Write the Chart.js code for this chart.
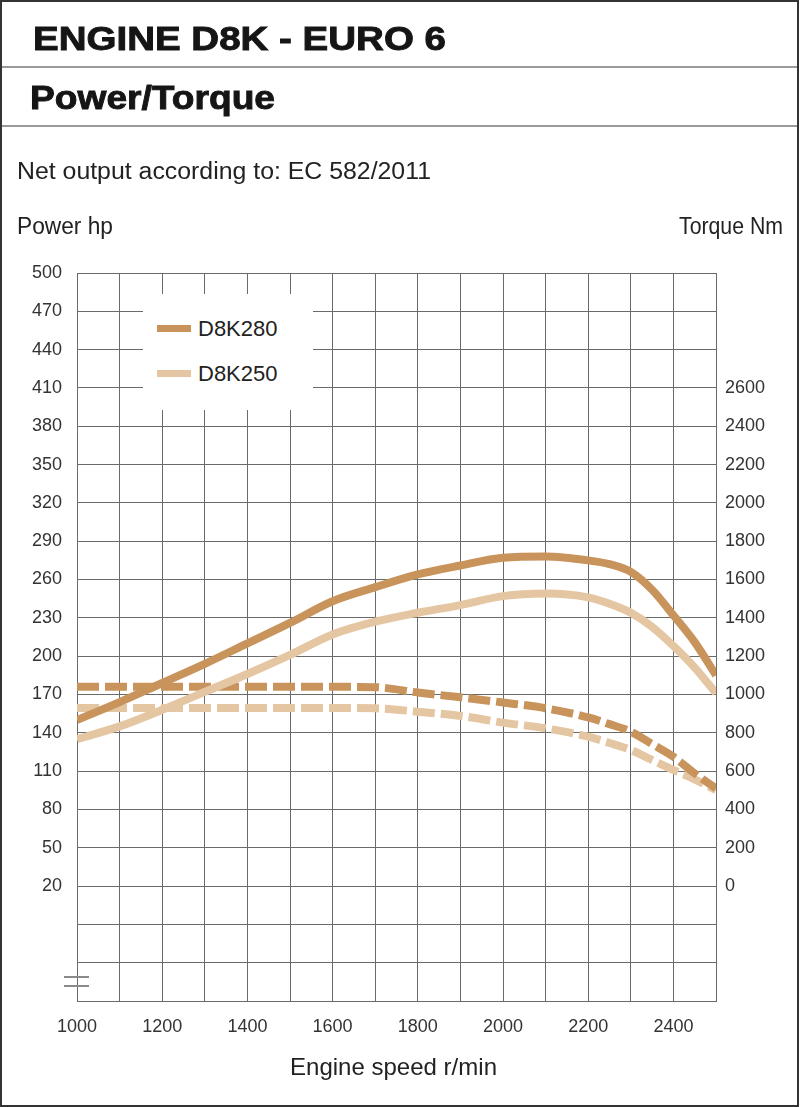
<!DOCTYPE html>
<html>
<head>
<meta charset="utf-8">
<script src="https://cdn.jsdelivr.net/npm/chart.js@4.4.1/dist/chart.umd.min.js"></script>
<style>
    html, body { margin: 0; padding: 0; background: #fff; }
    #page { position: relative; width: 800px; height: 1107px; overflow: hidden;
            font-family: "Liberation Sans", Arial, sans-serif; color: #222; }
    #frame { position: absolute; left: 0; top: 0; width: 799px; height: 1107px;
             box-sizing: border-box; border: 2px solid #333; z-index: 3; pointer-events: none; }
    .rule { position: absolute; left: 0; width: 799px; height: 2px; background: #9a9a9a; }
    .txt { position: absolute; white-space: nowrap; line-height: 1; transform-origin: 0 0; z-index: 2; }
    .head { font-weight: bold; font-size: 33px; color: #151515; -webkit-text-stroke: 0.9px #151515; }
    .label { font-size: 23px; color: #222; }
    #chart { position: absolute; left: 0; top: 0; }
    #legend { position: absolute; left: 143px; top: 294px; width: 170px; height: 116px;
              background: #fff; z-index: 2; }
    .legItem { position: absolute; left: 14px; height: 24px; }
    .legSwatch { position: absolute; left: 0; top: 9px; width: 34px; height: 7px; }
    .legText { position: absolute; left: 41px; top: 2px; font-size: 22px; line-height: 1; color: #222; white-space: nowrap; }
    .brk { position: absolute; left: 64px; width: 25px; height: 2px; background: #8a8a8a; z-index: 2; }
</style>
</head>
<body>
<div id="page">
    <div id="frame"></div>
    <div class="rule" style="top:66px"></div>
    <div class="rule" style="top:125px"></div>

    <div class="txt head" data-x="33" data-w="413" style="top:22px">ENGINE D8K - EURO 6</div>
    <div class="txt head" data-x="30" data-w="245" style="top:81px">Power/Torque</div>
    <div class="txt label" data-x="17" data-w="414" style="top:160px">Net output according to: EC 582/2011</div>
    <div class="txt label" data-x="17" data-w="96" style="top:215px">Power hp</div>
    <div class="txt label" data-x="783" data-w="104" data-align="right" style="top:215px">Torque Nm</div>
    <div class="txt label" data-x="393" data-w="207" data-align="center" style="top:1055px;font-size:24px">Engine speed r/min</div>

    <canvas id="chart" width="800" height="1107"></canvas>
    <div id="legend"></div>
    <div class="brk" style="top:976px"></div>
    <div class="brk" style="top:985px"></div>
</div>

<script>
// engine speed, r/min
const rpm = [1000, 1100, 1200, 1300, 1400, 1500, 1600, 1700, 1800, 1900, 2000, 2100, 2200, 2250, 2300, 2350, 2400, 2450, 2500];

// power, hp (left axis)
const powerD8K280 = [150, 164, 179, 194, 210, 226, 243, 254, 264, 271, 277, 278, 275, 272, 266, 252, 232, 211, 185];
const powerD8K250 = [135, 145, 158, 172, 186, 201, 217, 227, 234, 240, 247, 249, 246, 241, 234, 223, 208, 191, 171];

// torque, Nm (right axis)
const torqueD8K280 = [1040, 1040, 1040, 1040, 1040, 1040, 1040, 1038, 1010, 985, 958, 928, 880, 845, 806, 741, 675, 588, 510];
const torqueD8K250 = [930, 930, 930, 930, 930, 930, 930, 928, 910, 888, 853, 823, 780, 747, 710, 658, 606, 557, 500];

const models = ["D8K280", "D8K250"];
const modelColors = ["#c8945b", "#e5c6a2"];

// tick labels that are printed
const rpmTicks = [1000, 1200, 1400, 1600, 1800, 2000, 2200, 2400];
const powerTicks = [20, 50, 80, 110, 140, 170, 200, 230, 260, 290, 320, 350, 380, 410, 440, 470, 500];
const torqueTicks = [0, 200, 400, 600, 800, 1000, 1200, 1400, 1600, 1800, 2000, 2200, 2400, 2600];

const GRID = "#6a6a6a";
const TICK_FONT = { family: "Liberation Sans, Arial, sans-serif", size: 18 };

function points(values) {
    return rpm.map((r, i) => ({ x: r, y: values[i] }));
}

function line(label, values, color, axis, dashed) {
    return {
        label: label,
        data: points(values),
        yAxisID: axis,
        borderColor: color,
        borderWidth: 8,
        borderDash: dashed ? [22, 6] : [],
        borderCapStyle: "butt",
        pointRadius: 0,
        fill: false,
        cubicInterpolationMode: "monotone"
    };
}

// fit header texts to the widths in the reference
document.querySelectorAll(".txt").forEach(function (el) {
    const target = Number(el.dataset.w);
    const natural = el.getBoundingClientRect().width;
    el.style.transform = "scaleX(" + (target / natural) + ")";
    let x = Number(el.dataset.x);
    if (el.dataset.align === "right") x -= target;
    if (el.dataset.align === "center") x -= target / 2;
    el.style.left = x + "px";
});

// legend
const legend = document.getElementById("legend");
models.forEach(function (name, i) {
    const item = document.createElement("div");
    item.className = "legItem";
    item.style.top = (22 + i * 45) + "px";
    item.innerHTML = '<div class="legSwatch" style="background:' + modelColors[i] + '"></div>' +
        '<div class="legText">' + name + '</div>';
    legend.appendChild(item);
});

new Chart(document.getElementById("chart"), {
    type: "line",
    data: {
        datasets: [
            line(models[0] + " power", powerD8K280, modelColors[0], "yPower", false),
            line(models[1] + " power", powerD8K250, modelColors[1], "yPower", false),
            line(models[0] + " torque", torqueD8K280, modelColors[0], "yTorque", true),
            line(models[1] + " torque", torqueD8K250, modelColors[1], "yTorque", true)
        ]
    },
    options: {
        responsive: false,
        animation: false,
        devicePixelRatio: 1,
        layout: { padding: { top: 273, left: 0, right: 0, bottom: 0 } },
        plugins: { legend: { display: false }, tooltip: { enabled: false } },
        scales: {
            x: {
                type: "linear",
                min: 1000,
                max: 2500,
                grid: { color: GRID, lineWidth: 1, drawTicks: false },
                border: { color: GRID, width: 1 },
                ticks: {
                    stepSize: 100,
                    autoSkip: false,
                    maxRotation: 0,
                    padding: 15,
                    color: "#333",
                    font: TICK_FONT,
                    callback: v => rpmTicks.includes(v) ? String(v) : ""
                },
                afterFit: s => { s.height = 106; }
            },
            yPower: {
                position: "left",
                min: -70,
                max: 500,
                grid: { color: GRID, lineWidth: 1, drawTicks: false },
                border: { color: GRID, width: 1 },
                ticks: {
                    stepSize: 30,
                    padding: 15,
                    color: "#333",
                    font: TICK_FONT,
                    callback: v => powerTicks.includes(v) ? String(v) : ""
                },
                afterFit: s => { s.width = 77; }
            },
            yTorque: {
                position: "right",
                min: -600,
                max: 3200,
                grid: { display: false, drawTicks: false },
                border: { display: false },
                ticks: {
                    stepSize: 200,
                    padding: 9,
                    color: "#333",
                    font: TICK_FONT,
                    callback: v => torqueTicks.includes(v) ? String(v) : ""
                },
                afterFit: s => { s.width = 84; }
            }
        }
    }
});
</script>
</body>
</html>
